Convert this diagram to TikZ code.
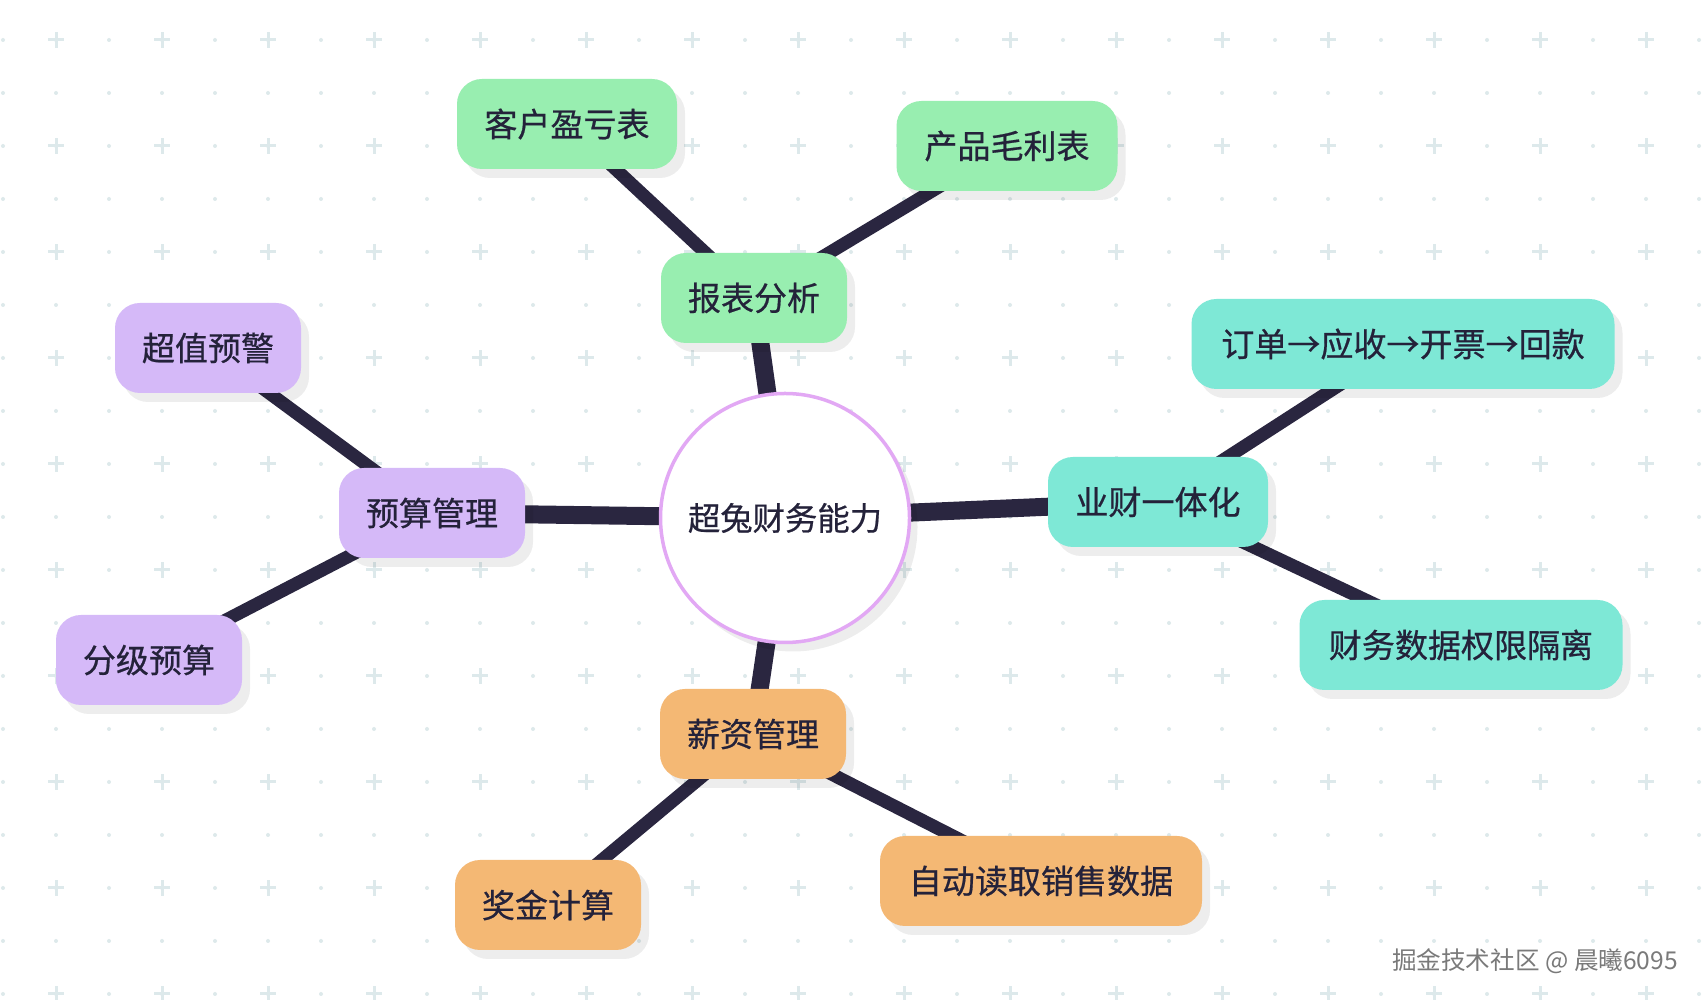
\documentclass[tikz,border=0pt]{standalone}
\usepackage{fontspec}
\newfontfamily\cjk[FakeBold=0.6]{Noto Sans CJK SC}
\newfontfamily\cjkmark{Noto Sans CJK SC}
\usetikzlibrary{shadows,backgrounds}
\definecolor{dotgray}{HTML}{DDE9EB}
\definecolor{linkdark}{HTML}{2A2640}
\definecolor{topicgreen}{HTML}{98EEB0}
\definecolor{topicpurple}{HTML}{D5B9F8}
\definecolor{topicteal}{HTML}{7EE8D6}
\definecolor{topicorange}{HTML}{F4B874}
\definecolor{rootring}{HTML}{E2A8F4}
\definecolor{inkdark}{HTML}{24223A}
\definecolor{markgray}{HTML}{7A7A7A}
\begin{document}
\begin{tikzpicture}[
        topic/.style={rounded corners=0.25cm, minimum height=0.9cm, minimum width=1.86cm, inner sep=0pt, text=inkdark,
            font=\cjk\fontsize{9.4}{11}\selectfont,
            drop shadow={shadow xshift=0.08cm, shadow yshift=-0.09cm, fill=black, opacity=0.07}},
        link/.style={linkdark, line width=0.13cm},
        mainlink/.style={linkdark, line width=0.18cm}
    ]
        \useasboundingbox (0,0) rectangle (17.06,-10);
        \node[circle, draw=rootring, fill=white, line width=0.035cm, minimum size=2.49cm, inner sep=0pt, text=inkdark,
            font=\cjk\fontsize{9.2}{11}\selectfont,
            drop shadow={shadow xshift=0.08cm, shadow yshift=-0.09cm, fill=black, opacity=0.07}] (root) at (7.85, -5.18) {超兔财务能力};

        \node[topic, fill=topicgreen] (report) at (7.54, -2.98) {报表分析};
        \node[topic, fill=topicgreen, minimum width=2.20cm] (custpl) at (5.67, -1.24) {客户盈亏表};
        \node[topic, fill=topicgreen, minimum width=2.21cm] (prodgm) at (10.07, -1.46) {产品毛利表};

        \node[topic, fill=topicpurple] (budget) at (4.32, -5.13) {预算管理};
        \node[topic, fill=topicpurple] (overwarn) at (2.08, -3.48) {超值预警};
        \node[topic, fill=topicpurple] (levelbud) at (1.49, -6.60) {分级预算};

        \node[topic, fill=topicteal, minimum width=2.20cm] (bizfin) at (11.58, -5.02) {业财一体化};
        \node[topic, fill=topicteal, minimum width=4.23cm] (orderflow) at (14.03, -3.44) {订单→应收→开票→回款};
        \node[topic, fill=topicteal, minimum width=3.23cm] (datasep) at (14.61, -6.45) {财务数据权限隔离};

        \node[topic, fill=topicorange] (salary) at (7.53, -7.34) {薪资管理};
        \node[topic, fill=topicorange] (bonus) at (5.48, -9.05) {奖金计算};
        \node[topic, fill=topicorange, minimum width=3.22cm] (salesread) at (10.41, -8.81) {自动读取销售数据};

        \node[text=markgray, font=\cjkmark\fontsize{7}{8}\selectfont] (mark) at (15.35, -9.61) {掘金技术社区 @ 晨曦6095};

        \begin{scope}[on background layer]
            \fill[white] (0,0) rectangle (17.06,-10);
            \foreach \i in {0,...,32} {
                \foreach \j in {0,...,18} {
                    \fill[dotgray] (0.03+0.53*\i, -0.40-0.53*\j) circle (0.02);
                }
            }
            \foreach \i in {1,3,...,31} {
                \foreach \j in {0,2,...,18} {
                    \draw[dotgray, line width=0.03cm] (0.03+0.53*\i, -0.40-0.53*\j) +(-0.08,0) -- +(0.08,0) +(0,-0.08) -- +(0,0.08);
                }
            }
            \foreach \t in {report, budget, bizfin, salary}
                \draw[mainlink] (root.center) -- (\t.center);
            \draw[link] (report.center) -- (custpl.center);
            \draw[link] (report.center) -- (prodgm.center);
            \draw[link] (budget.center) -- (overwarn.center);
            \draw[link] (budget.center) -- (levelbud.center);
            \draw[link] (bizfin.center) -- (orderflow.center);
            \draw[link] (bizfin.center) -- (datasep.center);
            \draw[link] (salary.center) -- (bonus.center);
            \draw[link] (salary.center) -- (salesread.center);
        \end{scope}
    \end{tikzpicture}
\end{document}
